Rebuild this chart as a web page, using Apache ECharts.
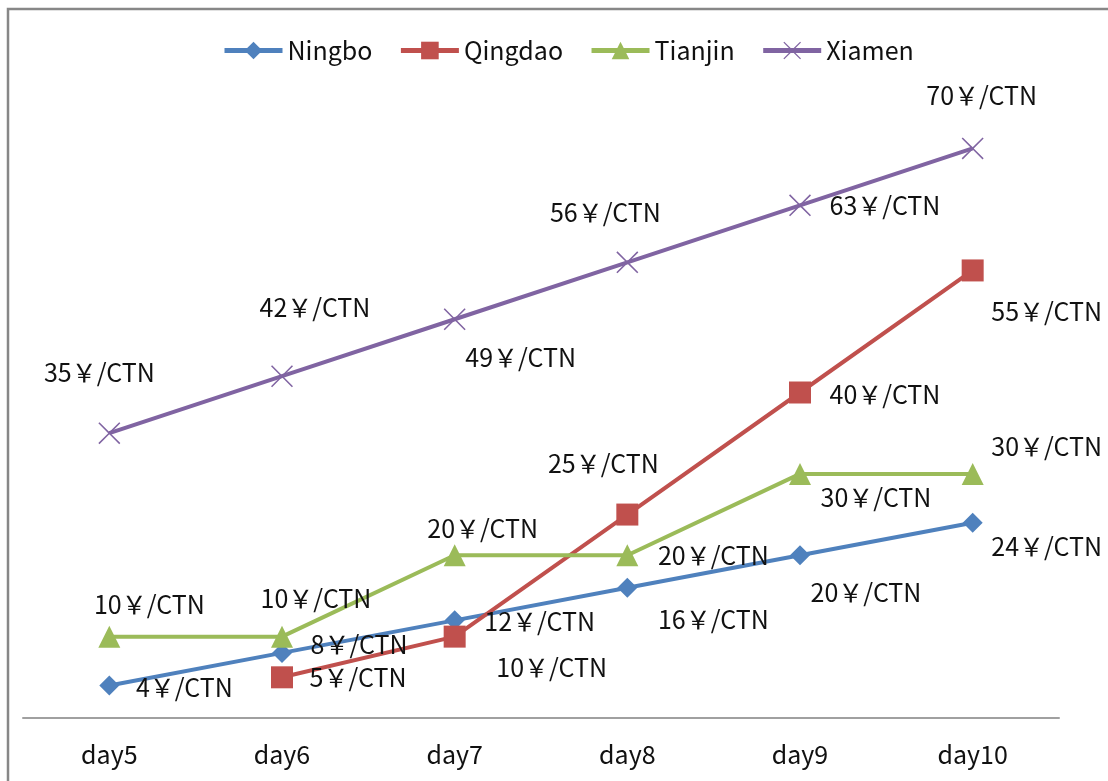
<!DOCTYPE html>
<html lang="en">
	<head>
		<meta charset="UTF-8">
		<title>Freight</title>
		<style>
			html, body { margin: 0; padding: 0; background: #fff; overflow: hidden; }
			#chart { width: 1108px; height: 781px; }
		</style>
	</head>
	<body>
		<div id="chart"></div>
	</body>
	<script src="https://cdn.jsdelivr.net/npm/echarts@6/dist/echarts.min.js"></script>
	<script>
		// data
		var days = ['day5', 'day6', 'day7', 'day8', 'day9', 'day10'];
		var ningbo = [4, 8, 12, 16, 20, 24];
		var qingdao = [null, 5, 10, 25, 40, 55];
		var tianjin = [10, 10, 20, 20, 30, 30];
		var xiamen = [35, 42, 49, 56, 63, 70];

		// where each label sits, relative to its point
		var offNingbo = [[75, 2], [77, -8], [85, 1], [86, 32], [66, 37], [74, 24]];
		var offQingdao = [null, [76, 0], [97, 31], [-24, -51], [85, 2], [74, 41]];
		var offTianjin = [[40, -32], [34, -38], [28, -27], [86, 0], [76, 24], [74, -27]];
		var offXiamen = [[-10, -61], [33, -69], [66, 38], [-22, -50], [85, 0], [9, -53]];

		var FONT = '"Noto Sans CJK SC", "Noto Sans", sans-serif';
		var crossPath = 'path://M0,1 L1,0 L10,9 L19,0 L20,1 L11,10 L20,19 L19,20 L10,11 L1,20 L0,19 L9,10 Z';

		function points(values, offsets) {
			return values.map(function (v, i) {
				if (v == null) return '-';
				return { value: v, label: { offset: offsets[i] } };
			});
		}

		function line(name, values, offsets, color, symbol, size) {
			return {
				name: name,
				type: 'line',
				data: points(values, offsets),
				symbol: symbol,
				symbolSize: size,
				showAllSymbol: true,
				color: color,
				lineStyle: { width: 4, color: color },
				itemStyle: { color: color },
				label: {
					show: true,
					position: 'inside',
					align: 'center',
					verticalAlign: 'middle',
					fontFamily: FONT,
					fontSize: 25,
					color: '#111',
					formatter: function (p) { return p.value + '\uFFE5/CTN'; }
				},
				emphasis: { disabled: true },
				animation: false
			};
		}

		var myChart = echarts.init(document.getElementById('chart'));
		var option = {
			backgroundColor: '#fff',
			graphic: [{
				type: 'rect',
				shape: { x: 8, y: 9, width: 1300, height: 900 },
				style: { fill: 'none', stroke: '#878787', lineWidth: 2.5 },
				z: -1
			}],
			legend: {
				top: 33,
				left: 217,
				itemWidth: 58,
				itemHeight: 22,
				itemGap: 26,
				lineStyle: { width: 5 },
				textStyle: { fontFamily: FONT, fontSize: 25, color: '#111' },
				data: ['Ningbo', 'Qingdao', 'Tianjin', 'Xiamen']
			},
			grid: { left: 23, right: 49, top: 67, bottom: 63 },
			xAxis: {
				type: 'category',
				data: days,
				axisLine: { lineStyle: { color: '#a0a0a0', width: 2 } },
				axisTick: { show: false },
				axisLabel: { fontFamily: FONT, fontSize: 25, color: '#111', margin: 24 }
			},
			yAxis: {
				type: 'value',
				min: 0,
				max: 80,
				show: false,
				splitLine: { show: false }
			},
			series: [
				line('Ningbo', ningbo, offNingbo, '#4F81BD', 'diamond', 20),
				line('Qingdao', qingdao, offQingdao, '#C0504D', 'rect', 22),
				line('Tianjin', tianjin, offTianjin, '#9BBB59', 'triangle', 22),
				line('Xiamen', xiamen, offXiamen, '#8064A2', crossPath, 22)
			]
		};
		myChart.setOption(option);
	</script>
</html>
